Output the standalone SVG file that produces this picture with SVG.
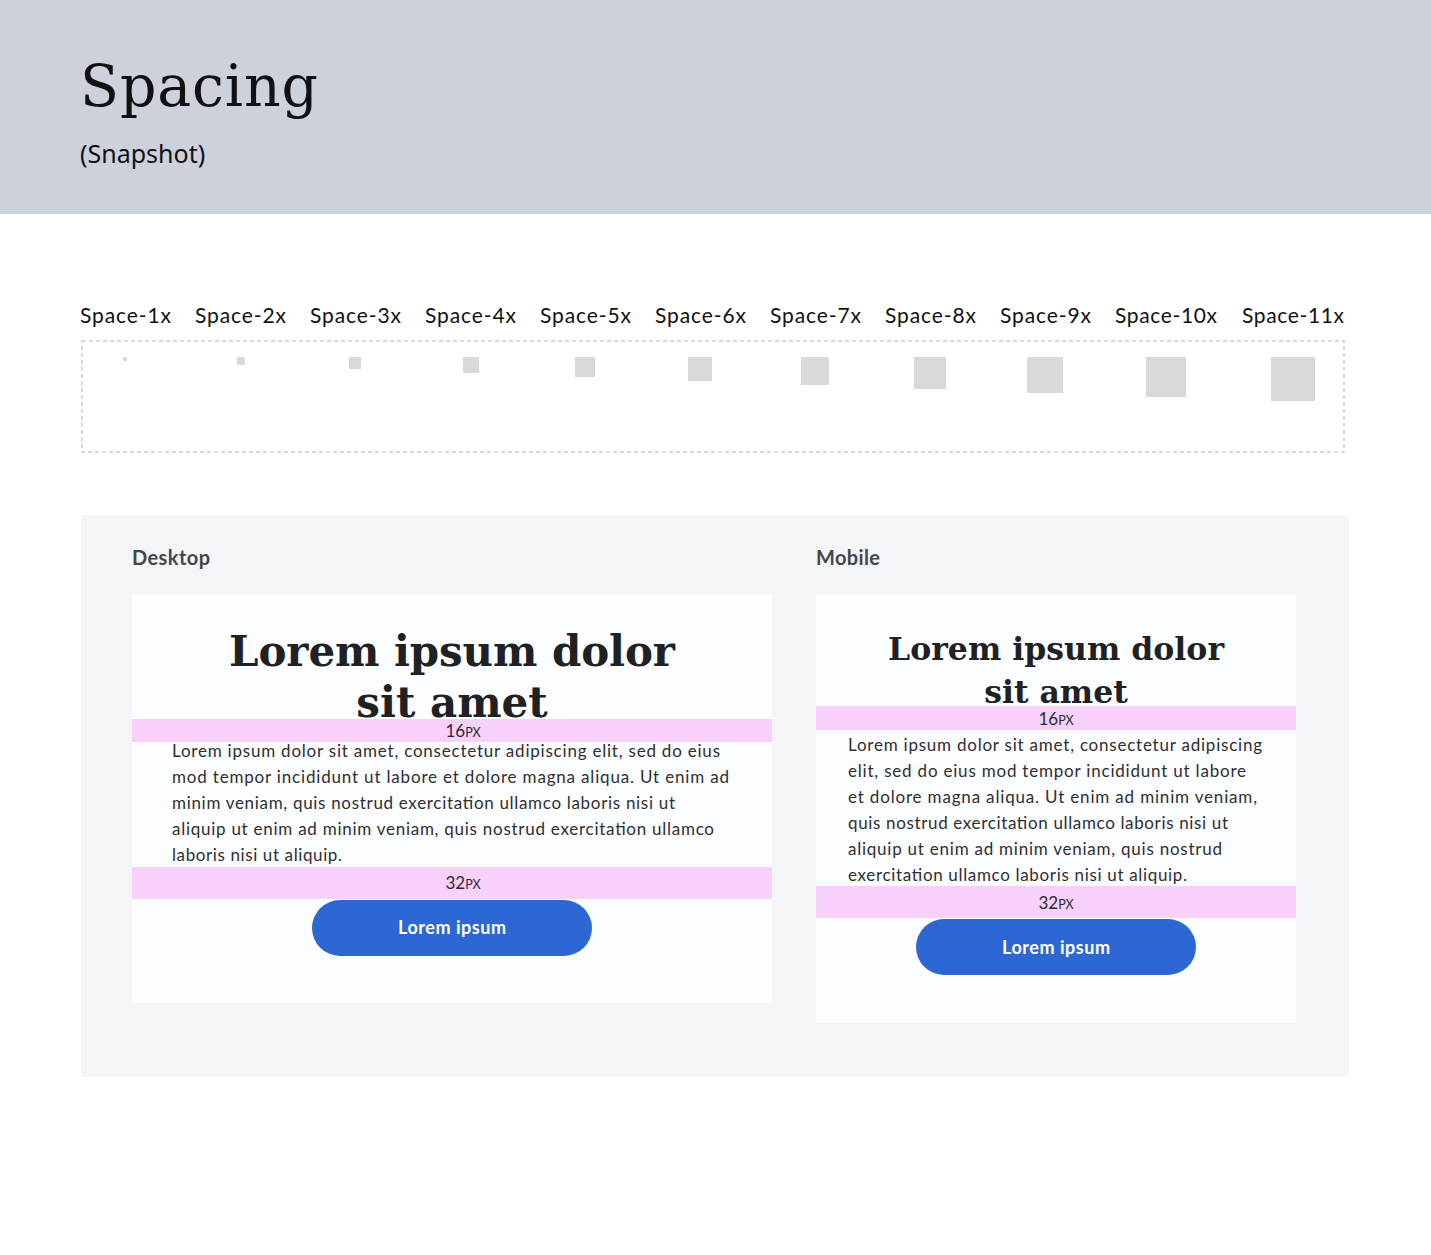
<svg xmlns="http://www.w3.org/2000/svg" width="1431" height="1255" viewBox="0 0 1431 1255">
<defs>
<style>
.lbl{font-family:Lato,"Noto Sans",sans-serif;font-size:21px;fill:#111}
.sq{fill:#D9D9D9}
.sec{font-family:Lato,"Noto Sans",sans-serif;font-size:20px;font-weight:700;fill:#45464A}
.card{fill:#FCFDFE}
.h{font-family:"DejaVu Serif",serif;font-weight:700;fill:#202124;text-anchor:middle}
.body{font-family:Lato,"Noto Sans",sans-serif;font-size:17px;fill:#2E2F33}
.band{fill:#F7D0FB}
.px{font-family:Lato,"Noto Sans",sans-serif;font-size:17px;fill:#2A2A2E;text-anchor:middle}
.px tspan{font-size:12.5px}
.btn{fill:#2D67D3}
.btnt{font-family:Lato,"Noto Sans",sans-serif;font-size:18px;font-weight:700;fill:#FFFFFF;text-anchor:middle}
</style>
</defs>
<rect x="0" y="0" width="1431" height="1255" fill="#FFFFFF"/>
<g id="header">
<rect x="0" y="0" width="1431" height="214" fill="#CDD1DC"/>
<text x="80" y="106" font-family="'DejaVu Serif',serif" font-size="57" fill="#111" textLength="238">Spacing</text>
<text x="80" y="163" font-family="'Noto Sans',sans-serif" font-size="25" fill="#111">(Snapshot)</text>
</g>
<g id="scale">
<rect x="82" y="341" width="1262" height="111" fill="none" stroke="#C9CBD3" stroke-width="1.5" stroke-dasharray="4 3"/>
<text class="lbl" x="80" y="323" textLength="91">Space-1x</text>
<text class="lbl" x="195" y="323" textLength="91">Space-2x</text>
<text class="lbl" x="310" y="323" textLength="91">Space-3x</text>
<text class="lbl" x="425" y="323" textLength="91">Space-4x</text>
<text class="lbl" x="540" y="323" textLength="91">Space-5x</text>
<text class="lbl" x="655" y="323" textLength="91">Space-6x</text>
<text class="lbl" x="770" y="323" textLength="91">Space-7x</text>
<text class="lbl" x="885" y="323" textLength="91">Space-8x</text>
<text class="lbl" x="1000" y="323" textLength="91">Space-9x</text>
<text class="lbl" x="1115" y="323" textLength="102">Space-10x</text>
<text class="lbl" x="1242" y="323" textLength="102">Space-11x</text>
<rect class="sq" x="123" y="357" width="4" height="4"/>
<rect class="sq" x="237" y="357" width="8" height="8"/>
<rect class="sq" x="349" y="357" width="12" height="12"/>
<rect class="sq" x="463" y="357" width="16" height="16"/>
<rect class="sq" x="575" y="357" width="20" height="20"/>
<rect class="sq" x="688" y="357" width="24" height="24"/>
<rect class="sq" x="801" y="357" width="28" height="28"/>
<rect class="sq" x="914" y="357" width="32" height="32"/>
<rect class="sq" x="1027" y="357" width="36" height="36"/>
<rect class="sq" x="1146" y="357" width="40" height="40"/>
<rect class="sq" x="1271" y="357" width="44" height="44"/>
</g>
<g id="panel">
<rect x="81" y="515" width="1268" height="562" fill="#F4F5F7"/>
<text class="sec" x="132" y="565" textLength="78">Desktop</text>
<text class="sec" x="816" y="565" textLength="64">Mobile</text>
</g>
<g id="desktop">
<rect class="card" x="132" y="595" width="640" height="408"/>
<text class="h" x="452" y="666" font-size="42" textLength="446">Lorem ipsum dolor</text>
<text class="h" x="452" y="717" font-size="42">sit amet</text>
<rect class="band" x="132" y="719" width="640" height="23"/>
<text class="px" x="463" y="737">16<tspan>PX</tspan></text>
<text class="body" x="172" y="757" textLength="548">Lorem ipsum dolor sit amet, consectetur adipiscing elit, sed do eius</text>
<text class="body" x="172" y="783" textLength="557">mod tempor incididunt ut labore et dolore magna aliqua. Ut enim ad</text>
<text class="body" x="172" y="809" textLength="503">minim veniam, quis nostrud exercitation ullamco laboris nisi ut</text>
<text class="body" x="172" y="835" textLength="542">aliquip ut enim ad minim veniam, quis nostrud exercitation ullamco</text>
<text class="body" x="172" y="861" textLength="170">laboris nisi ut aliquip.</text>
<rect class="band" x="132" y="867" width="640" height="32"/>
<text class="px" x="463" y="889">32<tspan>PX</tspan></text>
<rect class="btn" x="312" y="900" width="280" height="56" rx="28"/>
<text class="btnt" x="452" y="934" textLength="108">Lorem ipsum</text>
</g>
<g id="mobile">
<rect class="card" x="816" y="595" width="480" height="428"/>
<text class="h" x="1056" y="660" font-size="31.5" textLength="336">Lorem ipsum dolor</text>
<text class="h" x="1056" y="703" font-size="31.5">sit amet</text>
<rect class="band" x="816" y="706" width="480" height="24"/>
<text class="px" x="1056" y="725">16<tspan>PX</tspan></text>
<text class="body" x="848" y="751" textLength="414">Lorem ipsum dolor sit amet, consectetur adipiscing</text>
<text class="body" x="848" y="777" textLength="398">elit, sed do eius mod tempor incididunt ut labore</text>
<text class="body" x="848" y="803" textLength="409">et dolore magna aliqua. Ut enim ad minim veniam,</text>
<text class="body" x="848" y="829" textLength="380">quis nostrud exercitation ullamco laboris nisi ut</text>
<text class="body" x="848" y="855" textLength="374">aliquip ut enim ad minim veniam, quis nostrud</text>
<text class="body" x="848" y="881" textLength="339">exercitation ullamco laboris nisi ut aliquip.</text>
<rect class="band" x="816" y="886" width="480" height="32"/>
<text class="px" x="1056" y="909">32<tspan>PX</tspan></text>
<rect class="btn" x="916" y="919" width="280" height="56" rx="28"/>
<text class="btnt" x="1056" y="954" textLength="108">Lorem ipsum</text>
</g>
<g id="connectors"></g>
</svg>
